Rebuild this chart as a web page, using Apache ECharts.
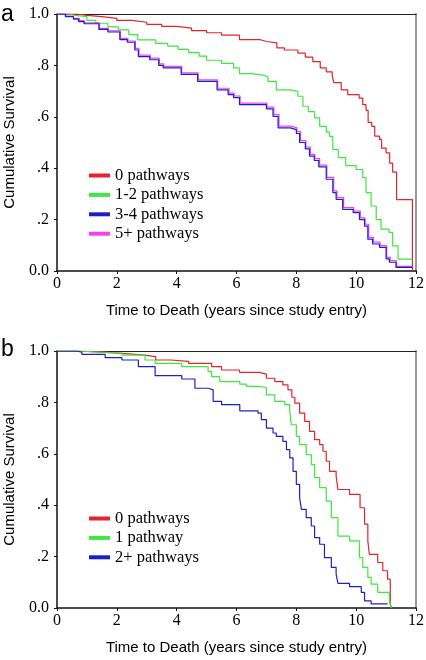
<!DOCTYPE html>
<html>
<head>
<meta charset="utf-8">
<script src="https://cdn.jsdelivr.net/npm/echarts@6/dist/echarts.min.js"></script>
<style>
html,body{margin:0;padding:0;background:#fff;}
#chart{width:426px;height:660px;}
</style>
</head>
<body>
<div id="chart"></div>
<script>
// ---------- Panel a ----------
const legendA = ['0 pathways', '1-2 pathways', '3-4 pathways', '5+ pathways'];
const a0T = [0, 0.65, 1.0, 1.5, 2.0, 2.5, 3.0, 3.5, 4.0, 4.5, 5.0, 5.5, 6.1, 6.8, 7.0, 7.35, 7.6, 8.05, 8.3, 8.55, 8.8, 9.0, 9.2, 9.25, 9.5, 9.72, 10.1, 10.22, 10.33, 10.4, 10.52, 10.62, 10.78, 10.85, 11.0, 11.12, 11.22, 11.35, 11.88];
const a0S = [1, 0.995, 0.99, 0.983, 0.975, 0.968, 0.96, 0.952, 0.945, 0.935, 0.927, 0.918, 0.9, 0.893, 0.888, 0.868, 0.86, 0.848, 0.832, 0.815, 0.79, 0.775, 0.76, 0.733, 0.705, 0.686, 0.673, 0.647, 0.625, 0.578, 0.563, 0.525, 0.512, 0.478, 0.46, 0.42, 0.385, 0.278, 0];
const a1T = [0, 0.4, 0.6, 1.0, 1.3, 1.7, 2.05, 2.4, 2.7, 3.3, 3.7, 4.05, 4.4, 4.75, 5.0, 5.5, 5.9, 6.1, 6.5, 6.9, 7.05, 7.33, 7.8, 8.05, 8.22, 8.4, 8.61, 8.78, 9.0, 9.11, 9.22, 9.4, 9.65, 10.0, 10.22, 10.33, 10.5, 10.67, 10.83, 11.1, 11.22, 11.4, 11.88];
const a1S = [1, 0.995, 0.99, 0.975, 0.964, 0.95, 0.938, 0.92, 0.899, 0.886, 0.875, 0.862, 0.85, 0.836, 0.82, 0.808, 0.79, 0.768, 0.762, 0.755, 0.738, 0.705, 0.699, 0.68, 0.641, 0.62, 0.596, 0.563, 0.54, 0.524, 0.473, 0.441, 0.41, 0.395, 0.363, 0.305, 0.253, 0.2, 0.163, 0.15, 0.098, 0.046, 0.046];
const a2T = [0, 0.28, 0.55, 0.72, 0.9, 1.4, 1.7, 2.1, 2.35, 2.6, 2.72, 3.1, 3.4, 3.55, 4.15, 4.7, 5.35, 5.72, 5.9, 6.1, 7.0, 7.22, 7.39, 7.8, 8.0, 8.11, 8.3, 8.44, 8.6, 8.75, 9.0, 9.22, 9.33, 9.55, 9.9, 10.11, 10.28, 10.39, 10.55, 10.78, 11.0, 11.11, 11.33, 11.88];
const a2S = [1, 0.99, 0.98, 0.97, 0.962, 0.94, 0.93, 0.9, 0.89, 0.86, 0.834, 0.822, 0.8, 0.79, 0.765, 0.738, 0.705, 0.686, 0.675, 0.647, 0.631, 0.602, 0.557, 0.55, 0.535, 0.5, 0.475, 0.447, 0.43, 0.405, 0.357, 0.305, 0.279, 0.24, 0.227, 0.2, 0.175, 0.124, 0.105, 0.092, 0.047, 0.034, 0.014, 0.014];
const a3T = [0, 0.3, 0.55, 0.75, 0.92, 1.42, 1.72, 2.12, 2.37, 2.62, 2.74, 3.12, 3.42, 3.57, 4.17, 4.72, 5.37, 5.75, 5.92, 6.12, 7.02, 7.25, 7.42, 7.82, 8.02, 8.14, 8.32, 8.47, 8.62, 8.78, 9.02, 9.25, 9.36, 9.58, 9.92, 10.14, 10.3, 10.42, 10.58, 10.8, 11.02, 11.14, 11.35, 11.88];
const a3S = [1, 0.992, 0.983, 0.974, 0.966, 0.944, 0.934, 0.905, 0.895, 0.866, 0.84, 0.828, 0.806, 0.796, 0.771, 0.744, 0.711, 0.692, 0.681, 0.653, 0.638, 0.609, 0.564, 0.557, 0.542, 0.507, 0.482, 0.454, 0.437, 0.412, 0.364, 0.312, 0.286, 0.247, 0.233, 0.207, 0.182, 0.131, 0.112, 0.099, 0.053, 0.04, 0.018, 0.018];

// ---------- Panel b ----------
const legendB = ['0 pathways', '1 pathway', '2+ pathways'];
const b0T = [0, 0.7, 1.0, 1.6, 2.3, 2.85, 3.3, 3.8, 4.4, 5.17, 5.5, 6.1, 6.75, 7.0, 7.28, 7.55, 7.72, 7.85, 7.95, 8.11, 8.28, 8.44, 8.61, 8.78, 8.89, 9.0, 9.11, 9.33, 9.39, 9.78, 10.13, 10.28, 10.39, 10.44, 10.72, 10.89, 11.05, 11.14, 11.18];
const b0S = [1, 0.998, 0.995, 0.99, 0.985, 0.978, 0.965, 0.96, 0.952, 0.939, 0.926, 0.917, 0.91, 0.894, 0.881, 0.868, 0.849, 0.82, 0.797, 0.758, 0.726, 0.687, 0.655, 0.636, 0.61, 0.571, 0.532, 0.513, 0.461, 0.442, 0.39, 0.326, 0.261, 0.209, 0.177, 0.145, 0.112, 0.016, 0];
const b1T = [0, 0.7, 1.2, 2.17, 2.94, 3.28, 4.17, 5.05, 5.17, 5.44, 6.11, 6.33, 6.72, 7.0, 7.28, 7.61, 7.78, 7.83, 8.0, 8.11, 8.33, 8.5, 8.61, 8.78, 9.0, 9.17, 9.39, 9.78, 10.11, 10.22, 10.39, 10.5, 10.72, 11.11, 11.17];
const b1S = [1, 0.997, 0.992, 0.984, 0.965, 0.952, 0.939, 0.92, 0.9, 0.881, 0.871, 0.862, 0.858, 0.829, 0.804, 0.791, 0.765, 0.713, 0.668, 0.636, 0.597, 0.558, 0.507, 0.468, 0.416, 0.352, 0.28, 0.261, 0.196, 0.158, 0.119, 0.093, 0.061, 0.028, 0];
const b2T = [0, 0.65, 0.83, 1.61, 2.17, 2.72, 3.28, 4.17, 4.61, 5.05, 5.22, 5.5, 6.11, 6.72, 6.83, 7.0, 7.22, 7.33, 7.55, 7.67, 7.78, 7.89, 8.0, 8.11, 8.17, 8.33, 8.5, 8.61, 8.78, 8.94, 9.17, 9.33, 9.39, 9.78, 10.17, 10.28, 10.5, 11.05];
const b2S = [1, 0.995, 0.987, 0.974, 0.965, 0.939, 0.904, 0.891, 0.855, 0.849, 0.804, 0.791, 0.767, 0.758, 0.733, 0.70, 0.681, 0.668, 0.648, 0.616, 0.584, 0.532, 0.481, 0.429, 0.384, 0.352, 0.319, 0.274, 0.248, 0.196, 0.158, 0.132, 0.096, 0.083, 0.061, 0.028, 0.016, 0.016];

const yTickLabels = {0: '0.0', 0.2: '.2', 0.4: '.4', 0.6: '.6', 0.8: '.8', 1: '1.0'};

const RED = '#e0252b', GREEN = '#3ee83e', BLUE = '#1e1ec8', MAGENTA = '#ee44ee';

function zip(t, s) { return t.map((v, i) => [v, s[i]]); }

const SERIF = '"Liberation Serif", "Times New Roman", "DejaVu Serif", serif';
const SANS = '"Liberation Sans", Arial, sans-serif';

function mainX(gi) {
  return {
    type: 'value', gridIndex: gi, min: 0, max: 12, interval: 2,
    axisLine: {show: true, onZero: false, lineStyle: {color: '#111', width: 1.5}},
    axisTick: {show: true, length: 3, lineStyle: {color: '#111'}},
    axisLabel: {fontFamily: SERIF, fontSize: 16, color: '#000', margin: 5},
    splitLine: {show: false},
    name: 'Time to Death (years since study entry)',
    nameLocation: 'middle', nameGap: 32,
    nameTextStyle: {fontFamily: SANS, fontSize: 15, color: '#000'}
  };
}
function topX(gi) {
  return {
    type: 'value', gridIndex: gi, min: 0, max: 12, position: 'top',
    axisLine: {show: true, onZero: false, lineStyle: {color: '#222', width: 1.2}},
    axisTick: {show: false}, axisLabel: {show: false}, splitLine: {show: false}
  };
}
function mainY(gi) {
  return {
    type: 'value', gridIndex: gi, min: 0, max: 1, interval: 0.2,
    axisLine: {show: true, onZero: false, lineStyle: {color: '#111', width: 1.5}},
    axisTick: {show: true, length: 3, lineStyle: {color: '#111'}},
    axisLabel: {fontFamily: SERIF, fontSize: 16, color: '#000', margin: 8,
      formatter: v => yTickLabels[Math.round(v * 10) / 10]},
    splitLine: {show: false},
    name: 'Cumulative Survival', nameLocation: 'middle', nameGap: 40, nameRotate: 90,
    nameTextStyle: {fontFamily: SANS, fontSize: 15, color: '#000'}
  };
}
function rightY(gi) {
  return {
    type: 'value', gridIndex: gi, min: 0, max: 1, position: 'right',
    axisLine: {show: true, onZero: false, lineStyle: {color: '#999', width: 2}},
    axisTick: {show: false}, axisLabel: {show: false}, splitLine: {show: false}
  };
}
function line(name, data, color, xi, yi, z) {
  return {
    name, type: 'line', step: 'end', data, xAxisIndex: xi, yAxisIndex: yi,
    showSymbol: false, symbol: 'none', z: z || 2,
    lineStyle: {color, width: 1.2}, itemStyle: {color}
  };
}
function legend(names, top) {
  return {
    data: names, orient: 'vertical', left: 89, top, padding: 0,
    itemWidth: 21, itemHeight: 4, itemGap: 2.4, icon: 'rect',
    textStyle: {fontFamily: SERIF, fontSize: 16.5, color: '#000', lineHeight: 15},
    selectedMode: false
  };
}

const chart = echarts.init(document.getElementById('chart'), null, {renderer: 'canvas'});
chart.setOption({
  animation: false,
  backgroundColor: '#fff',
  title: [
    {text: 'a', left: 1, top: 3, padding: 0, textStyle: {fontFamily: SANS, fontSize: 23, fontWeight: 'normal', color: '#000'}},
    {text: 'b', left: 1, top: 338, padding: 0, textStyle: {fontFamily: SANS, fontSize: 23, fontWeight: 'normal', color: '#000'}}
  ],
  grid: [
    {left: 57, top: 14, width: 359, height: 257, containLabel: false, outerBoundsMode: 'none'},
    {left: 57, top: 351, width: 359, height: 257, containLabel: false, outerBoundsMode: 'none'}
  ],
  xAxis: [mainX(0), topX(0), mainX(1), topX(1)],
  yAxis: [mainY(0), rightY(0), mainY(1), rightY(1)],
  legend: [legend(legendA, 167), legend(legendB, 510)],
  series: [
    line(legendA[0], zip(a0T, a0S), RED, 0, 0),
    line(legendA[1], zip(a1T, a1S), GREEN, 0, 0),
    line(legendA[3], zip(a3T, a3S), MAGENTA, 0, 0),
    line(legendA[2], zip(a2T, a2S), BLUE, 0, 0, 3),
    line(legendB[0], zip(b0T, b0S), RED, 2, 2),
    line(legendB[1], zip(b1T, b1S), GREEN, 2, 2),
    line(legendB[2], zip(b2T, b2S), BLUE, 2, 2)
  ]
});
</script>
</body>
</html>
